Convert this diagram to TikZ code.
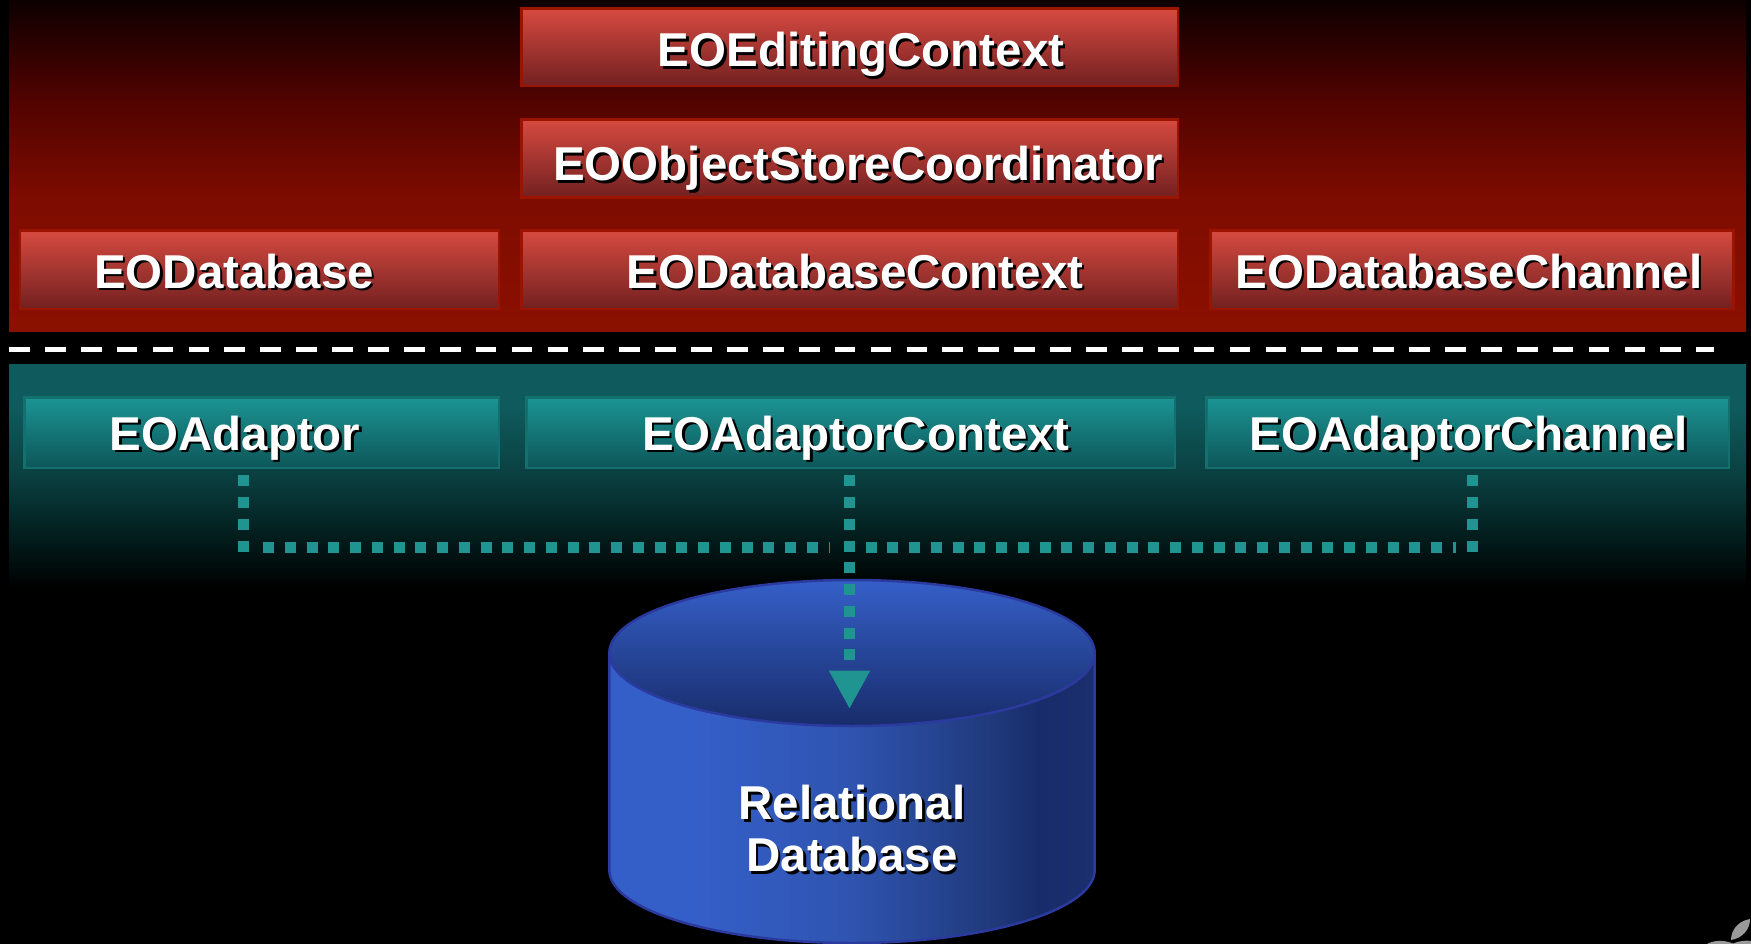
\documentclass[tikz,border=0pt]{standalone}
\usepackage{fontspec}
\setmainfont{Liberation Sans}
\usetikzlibrary{arrows.meta,shapes.geometric}
\definecolor{pA}{HTML}{0D0000}
\definecolor{pB}{HTML}{500300}
\definecolor{pC}{HTML}{7E0C00}
\definecolor{pD}{HTML}{8B1000}
\definecolor{tA}{HTML}{0F5A5C}
\definecolor{tB}{HTML}{0A3D3E}
\definecolor{tC}{HTML}{032020}
\definecolor{tD}{HTML}{010A0A}
\definecolor{cA}{HTML}{355FC8}
\definecolor{cB}{HTML}{2F54B0}
\definecolor{cC}{HTML}{1F3878}
\definecolor{cD}{HTML}{182C6A}
\definecolor{cE}{HTML}{1B2F6E}
\definecolor{rTop}{HTML}{D64A40}
\definecolor{rMid}{HTML}{A23532}
\definecolor{rBot}{HTML}{722020}
\definecolor{rLine}{HTML}{9A1400}
\definecolor{gTop}{HTML}{1C9494}
\definecolor{gMid}{HTML}{167A7A}
\definecolor{gBot}{HTML}{0D5658}
\definecolor{gLine}{HTML}{14706F}
\definecolor{dotc}{HTML}{1F9490}
\definecolor{cylLine}{HTML}{2B3A9E}
\definecolor{logo}{HTML}{9A9A9A}
\pgfdeclareverticalshading{redpanel}{100bp}{color(0bp)=(pD); color(25bp)=(pD); color(44.8bp)=(pC); color(60bp)=(pB); color(75bp)=(pA); color(100bp)=(pA)}
\pgfdeclareverticalshading{tealpanel}{100bp}{color(0bp)=(black); color(25bp)=(black); color(28.8bp)=(tD); color(37.8bp)=(tC); color(49bp)=(tB); color(65bp)=(tA); color(75bp)=(tA); color(100bp)=(tA)}
\pgfdeclarehorizontalshading{cylside}{100bp}{color(0bp)=(cA); color(34bp)=(cA); color(49.8bp)=(cB); color(65bp)=(cC); color(69.3bp)=(cD); color(75bp)=(cE); color(100bp)=(cE)}
\newcommand\shtext[1]{\leavevmode\rlap{\raisebox{-2.5pt}{\kern2.5pt\textcolor{black}{#1}}}#1}
\tikzset{
  boxbase/.style={rectangle,inner sep=0pt,outer sep=0pt,line width=2.5pt},
  redbox/.style={boxbase,draw=rLine,top color=rTop,middle color=rMid,bottom color=rBot},
  tealbox/.style={boxbase,draw=gLine,top color=gTop,middle color=gMid,bottom color=gBot},
  lbl/.style={inner sep=0pt,outer sep=0pt,anchor=base,text=white,font=\fontsize{47.5}{52}\selectfont\bfseries},
  dotline/.style={draw=dotc,line width=11pt,dash pattern=on 11pt off 10.75pt},
  sepline/.style={draw=white,line width=5pt,dash pattern=on 20.7pt off 15.2pt},
}
\begin{document}
\begin{tikzpicture}[x=1pt,y=-1pt]
\useasboundingbox (0,0) rectangle (1751,944);
\fill[black] (0,0) rectangle (1751,944);
% panels
\shade[shading=redpanel] (9,0) rectangle (1746,331);
\shade[shading=tealpanel] (9,364) rectangle (1746,587);
% separator
\coordinate (sepL) at (9,349.3);
\coordinate (sepR) at (1714,349.3);
\draw[sepline] (sepL) -- (sepR);
% red boxes
\node[redbox,minimum width=656.5pt,minimum height=77.5pt] (editing) at (849.5,47.3) {};
\node[redbox,minimum width=656.5pt,minimum height=78.2pt] (store) at (849.5,158.4) {};
\node[redbox,minimum width=479pt,minimum height=78.5pt] (database) at (259.5,269.7) {};
\node[redbox,minimum width=656.5pt,minimum height=78.5pt] (dbctx) at (849.5,269.7) {};
\node[redbox,minimum width=523pt,minimum height=78.5pt] (dbchan) at (1471.8,269.7) {};
% teal boxes
\node[tealbox,minimum width=474.5pt,minimum height=70.8pt] (adaptor) at (261.5,432.7) {};
\node[tealbox,minimum width=648.5pt,minimum height=70.8pt] (adctx) at (850.5,432.7) {};
\node[tealbox,minimum width=522.5pt,minimum height=70.8pt] (adchan) at (1467.5,432.7) {};
% cylinder
\shade[shading=cylside,draw=cylLine,line width=2.5pt] (609.3,653) -- (609.3,870) .. controls (609.3,910.3) and (718,943) .. (852,943) .. controls (986,943) and (1094.7,910.3) .. (1094.7,870) -- (1094.7,653) -- cycle;
\node[ellipse,inner sep=0pt,outer sep=0pt,minimum width=485.4pt,minimum height=146pt,draw=cylLine,line width=2.5pt,top color=cA,middle color=cB!85!cC,bottom color=cD] (dbtop) at (852,653) {};
% labels
\node[lbl] (tEditing) at (861,66.7) {\shtext{EOEditingContext}};
\node[lbl] (tStore) at (858,181) {\shtext{EOObjectStoreCoordinator}};
\node[lbl] (tDatabase) at (234,288.3) {\shtext{EODatabase}};
\node[lbl] (tDbCtx) at (855,288.3) {\shtext{EODatabaseContext}};
\node[lbl] (tDbChan) at (1469,288.3) {\shtext{EODatabaseChannel}};
\node[lbl] (tAdaptor) at (235,450) {\shtext{EOAdaptor}};
\node[lbl] (tAdCtx) at (856,450) {\shtext{EOAdaptorContext}};
\node[lbl] (tAdChan) at (1469,450) {\shtext{EOAdaptorChannel}};
\node[inner sep=0pt,outer sep=0pt,align=center,text=white,font=\fontsize{47.5}{52}\selectfont\bfseries] (tRel) at (852,830) {\shtext{Relational}\\\shtext{Database}};
% connectors
\coordinate (tip) at (849.5,709);
\coordinate (lDown) at (243.2,552);
\coordinate (rDown) at (1472.7,552);
\coordinate (lStart) at (263,547.7);
\coordinate (lEnd) at (830,547.7);
\coordinate (rStart) at (865.7,547.7);
\coordinate (rEnd) at (1456,547.7);
\draw[dotline,shorten <=7.2pt] (adaptor.south -| lDown) -- (lDown);
\draw[dotline,shorten <=7.2pt] (adchan.south -| rDown) -- (rDown);
\draw[dotline] (lStart) -- (lEnd);
\draw[dotline] (rStart) -- (rEnd);
\draw[dotline,shorten <=7.2pt,-{Triangle[length=38.3pt,width=38.3pt,fill=dotc]}] (adctx.south -| tip) -- (tip);
% logo
\fill[logo] (1731,940) .. controls (1731,930) and (1738,921) .. (1750,919) .. controls (1750,929) and (1743,938) .. (1731,940) -- cycle;
\fill[logo] (1707,944) .. controls (1712,941) and (1722,939) .. (1733,943.5) .. controls (1739,941) and (1746,940) .. (1751,941) -- (1751,944) -- cycle;
\end{tikzpicture}
\end{document}
